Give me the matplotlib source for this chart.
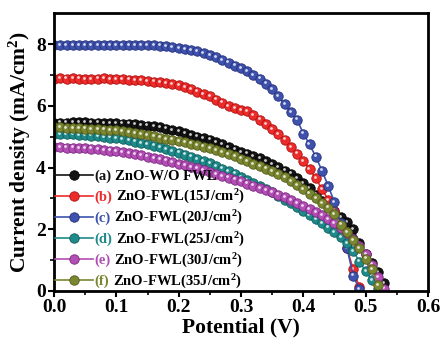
import numpy as np
import matplotlib
matplotlib.use('Agg')
import matplotlib.pyplot as plt
import matplotlib.transforms as mtransforms

plt.rcParams['font.family'] = ['Liberation Serif', 'DejaVu Serif']
plt.rcParams['font.weight'] = 'bold'
plt.rcParams['mathtext.fontset'] = 'custom'
plt.rcParams['mathtext.rm'] = 'Liberation Serif:bold'
plt.rcParams['mathtext.it'] = 'Liberation Serif:bold'
plt.rcParams['mathtext.bf'] = 'Liberation Serif:bold'

# voltage sample grid (V)
volts = [0.00, 0.01, 0.02, 0.03, 0.04, 0.05, 0.06, 0.07, 0.08, 0.09,
         0.10, 0.11, 0.12, 0.13, 0.14, 0.15, 0.16, 0.17, 0.18, 0.19,
         0.20, 0.21, 0.22, 0.23, 0.24, 0.25, 0.26, 0.27, 0.28, 0.29,
         0.30, 0.31, 0.32, 0.33, 0.34, 0.35, 0.36, 0.37, 0.38, 0.39,
         0.40, 0.41, 0.42, 0.43, 0.44, 0.45, 0.46, 0.47, 0.48, 0.49,
         0.50, 0.51, 0.52, 0.53]

# current density (mA/cm2)
j_a = [5.45, 5.45, 5.45, 5.46, 5.47, 5.48, 5.45, 5.45, 5.44, 5.44,
       5.43, 5.42, 5.42, 5.40, 5.38, 5.36, 5.33, 5.30, 5.26, 5.22,
       5.18, 5.12, 5.06, 5.00, 4.95, 4.90, 4.82, 4.75, 4.66, 4.58,
       4.50, 4.45, 4.38, 4.30, 4.20, 4.12, 4.02, 3.90, 3.80, 3.65,
       3.50, 3.32, 3.12, 2.92, 2.75, 2.58, 2.40, 2.22, 2.00, 1.55,
       1.20, 0.90, 0.60, 0.25]
j_b = [6.88, 6.89, 6.88, 6.90, 6.88, 6.87, 6.86, 6.88, 6.89, 6.87,
       6.86, 6.86, 6.85, 6.84, 6.82, 6.80, 6.78, 6.76, 6.73, 6.70,
       6.66, 6.60, 6.53, 6.46, 6.38, 6.30, 6.20, 6.10, 6.00, 5.92,
       5.85, 5.82, 5.70, 5.55, 5.40, 5.25, 5.08, 4.90, 4.65, 4.45,
       4.20, 3.95, 3.65, 3.30, 2.95, 2.60, 2.10, 1.40, 0.70, 0.12]
j_c = [7.97, 7.97, 7.97, 7.97, 7.97, 7.97, 7.97, 7.97, 7.97, 7.97,
       7.97, 7.97, 7.96, 7.96, 7.96, 7.96, 7.97, 7.95, 7.93, 7.90,
       7.87, 7.83, 7.80, 7.76, 7.70, 7.63, 7.57, 7.48, 7.40, 7.30,
       7.22, 7.12, 7.00, 6.88, 6.72, 6.55, 6.30, 6.05, 5.80, 5.55,
       5.10, 4.75, 4.35, 3.90, 3.40, 2.88, 2.20, 1.40, 0.50, 0.05]
j_d = [5.08, 5.08, 5.07, 5.07, 5.06, 5.05, 5.03, 5.01, 4.99, 4.97,
       4.95, 4.92, 4.88, 4.84, 4.80, 4.76, 4.71, 4.66, 4.60, 4.54,
       4.48, 4.42, 4.35, 4.28, 4.21, 4.14, 4.05, 3.96, 3.88, 3.80,
       3.70, 3.60, 3.50, 3.40, 3.30, 3.20, 3.08, 2.96, 2.84, 2.72,
       2.60, 2.45, 2.32, 2.20, 2.05, 1.90, 1.75, 1.55, 1.30, 0.95,
       0.65, 0.35, 0.05]
j_e = [4.65, 4.65, 4.64, 4.64, 4.63, 4.62, 4.61, 4.59, 4.57, 4.55,
       4.52, 4.49, 4.46, 4.43, 4.39, 4.35, 4.31, 4.27, 4.22, 4.17,
       4.12, 4.07, 4.02, 3.97, 3.91, 3.85, 3.79, 3.73, 3.67, 3.61,
       3.55, 3.48, 3.41, 3.34, 3.27, 3.20, 3.12, 3.03, 2.94, 2.85,
       2.76, 2.66, 2.56, 2.45, 2.33, 2.20, 2.05, 1.88, 1.68, 1.45,
       1.20, 0.85, 0.45, 0.08]
j_f = [5.30, 5.30, 5.28, 5.28, 5.27, 5.26, 5.25, 5.24, 5.23, 5.21,
       5.20, 5.17, 5.14, 5.11, 5.08, 5.05, 5.01, 4.97, 4.93, 4.90,
       4.86, 4.81, 4.77, 4.72, 4.68, 4.63, 4.56, 4.50, 4.43, 4.36,
       4.29, 4.20, 4.12, 4.04, 3.96, 3.88, 3.78, 3.68, 3.55, 3.42,
       3.30, 3.15, 3.00, 2.85, 2.70, 2.50, 2.15, 1.90, 1.65, 1.40,
       1.05, 0.70, 0.18]

series = [j_a, j_b, j_c, j_d, j_e, j_f]
letters = ['(a)', '(b)', '(c)', '(d)', '(e)', '(f)']
names = ['ZnO-W/O FWL',
         'ZnO-FWL(15J/cm$^2$)',
         'ZnO-FWL(20J/cm$^2$)',
         'ZnO-FWL(25J/cm$^2$)',
         'ZnO-FWL(30J/cm$^2$)',
         'ZnO-FWL(35J/cm$^2$)']
colors = ['#141414', '#ec2b2b', '#3d51ad', '#1f8a8a', '#b24eb4', '#7b8630']
edges = ['#000000', '#b01010', '#25307a', '#0f5c5c', '#7a2a80', '#525a1a']

fig = plt.figure(figsize=(4.43, 3.46), dpi=100)
ax = fig.add_axes([0.122, 0.159, 0.844, 0.803])

# small highlight offset for the "sphere" look
hl = mtransforms.offset_copy(ax.transData, fig=fig, x=-0.8, y=0.9, units='points')

handles = []
for jj, c, ec in zip(series, colors, edges):
    v = volts[:len(jj)]
    ln, = ax.plot(v, jj, '-', color=c, lw=1.2, marker='o', ms=6.8,
                  mfc=c, mec=ec, mew=0.6)
    ax.plot(v, jj, 'o', ms=2.0, mfc='white', mec='none', alpha=0.8,
            transform=hl)
    handles.append(ln)

ax.set_xlim(0.0, 0.6)
ax.set_ylim(0, 9)
ax.set_xticks([0.0, 0.1, 0.2, 0.3, 0.4, 0.5, 0.6])
ax.set_xticks([0.05, 0.15, 0.25, 0.35, 0.45, 0.55], minor=True)
ax.set_yticks([0, 2, 4, 6, 8])
ax.set_yticks([1, 3, 5, 7], minor=True)
ax.tick_params(which='major', direction='out', length=4, width=1.5,
               labelsize=14, pad=2)
ax.tick_params(which='minor', direction='out', length=3, width=1.2)
ax.tick_params(top=False, right=False)
for s in ax.spines.values():
    s.set_linewidth(2)

ax.set_xlabel('Potential (V)', fontsize=15.5, fontweight='bold', labelpad=1)
ax.set_ylabel('Current density (mA/cm$^2$)', fontsize=15.5, fontweight='bold',
              labelpad=2)

leg = ax.legend(handles, letters, loc='lower left',
                bbox_to_anchor=(-0.014, -0.012), frameon=False, fontsize=10.5,
                handlelength=2.6, handletextpad=0.1, labelspacing=0.52,
                borderaxespad=0.2, borderpad=0.2, labelcolor=colors)

# the rest of each label is black, placed on the same baseline after the letter
fig.canvas.draw()
rend = fig.canvas.get_renderer()
gap = 3 * fig.dpi / 72
for t, nm in zip(leg.get_texts(), names):
    bb = t.get_window_extent(rend)
    _, _, d = rend.get_text_width_height_descent('lp', t.get_fontproperties(),
                                                 ismath=False)
    x, y = fig.transFigure.inverted().transform((bb.x1 + gap, bb.y0 + d))
    fig.text(x, y, nm, va='baseline', ha='left', fontsize=10.5,
             fontweight='bold', color='black')

fig.savefig('out.png', dpi=100)
